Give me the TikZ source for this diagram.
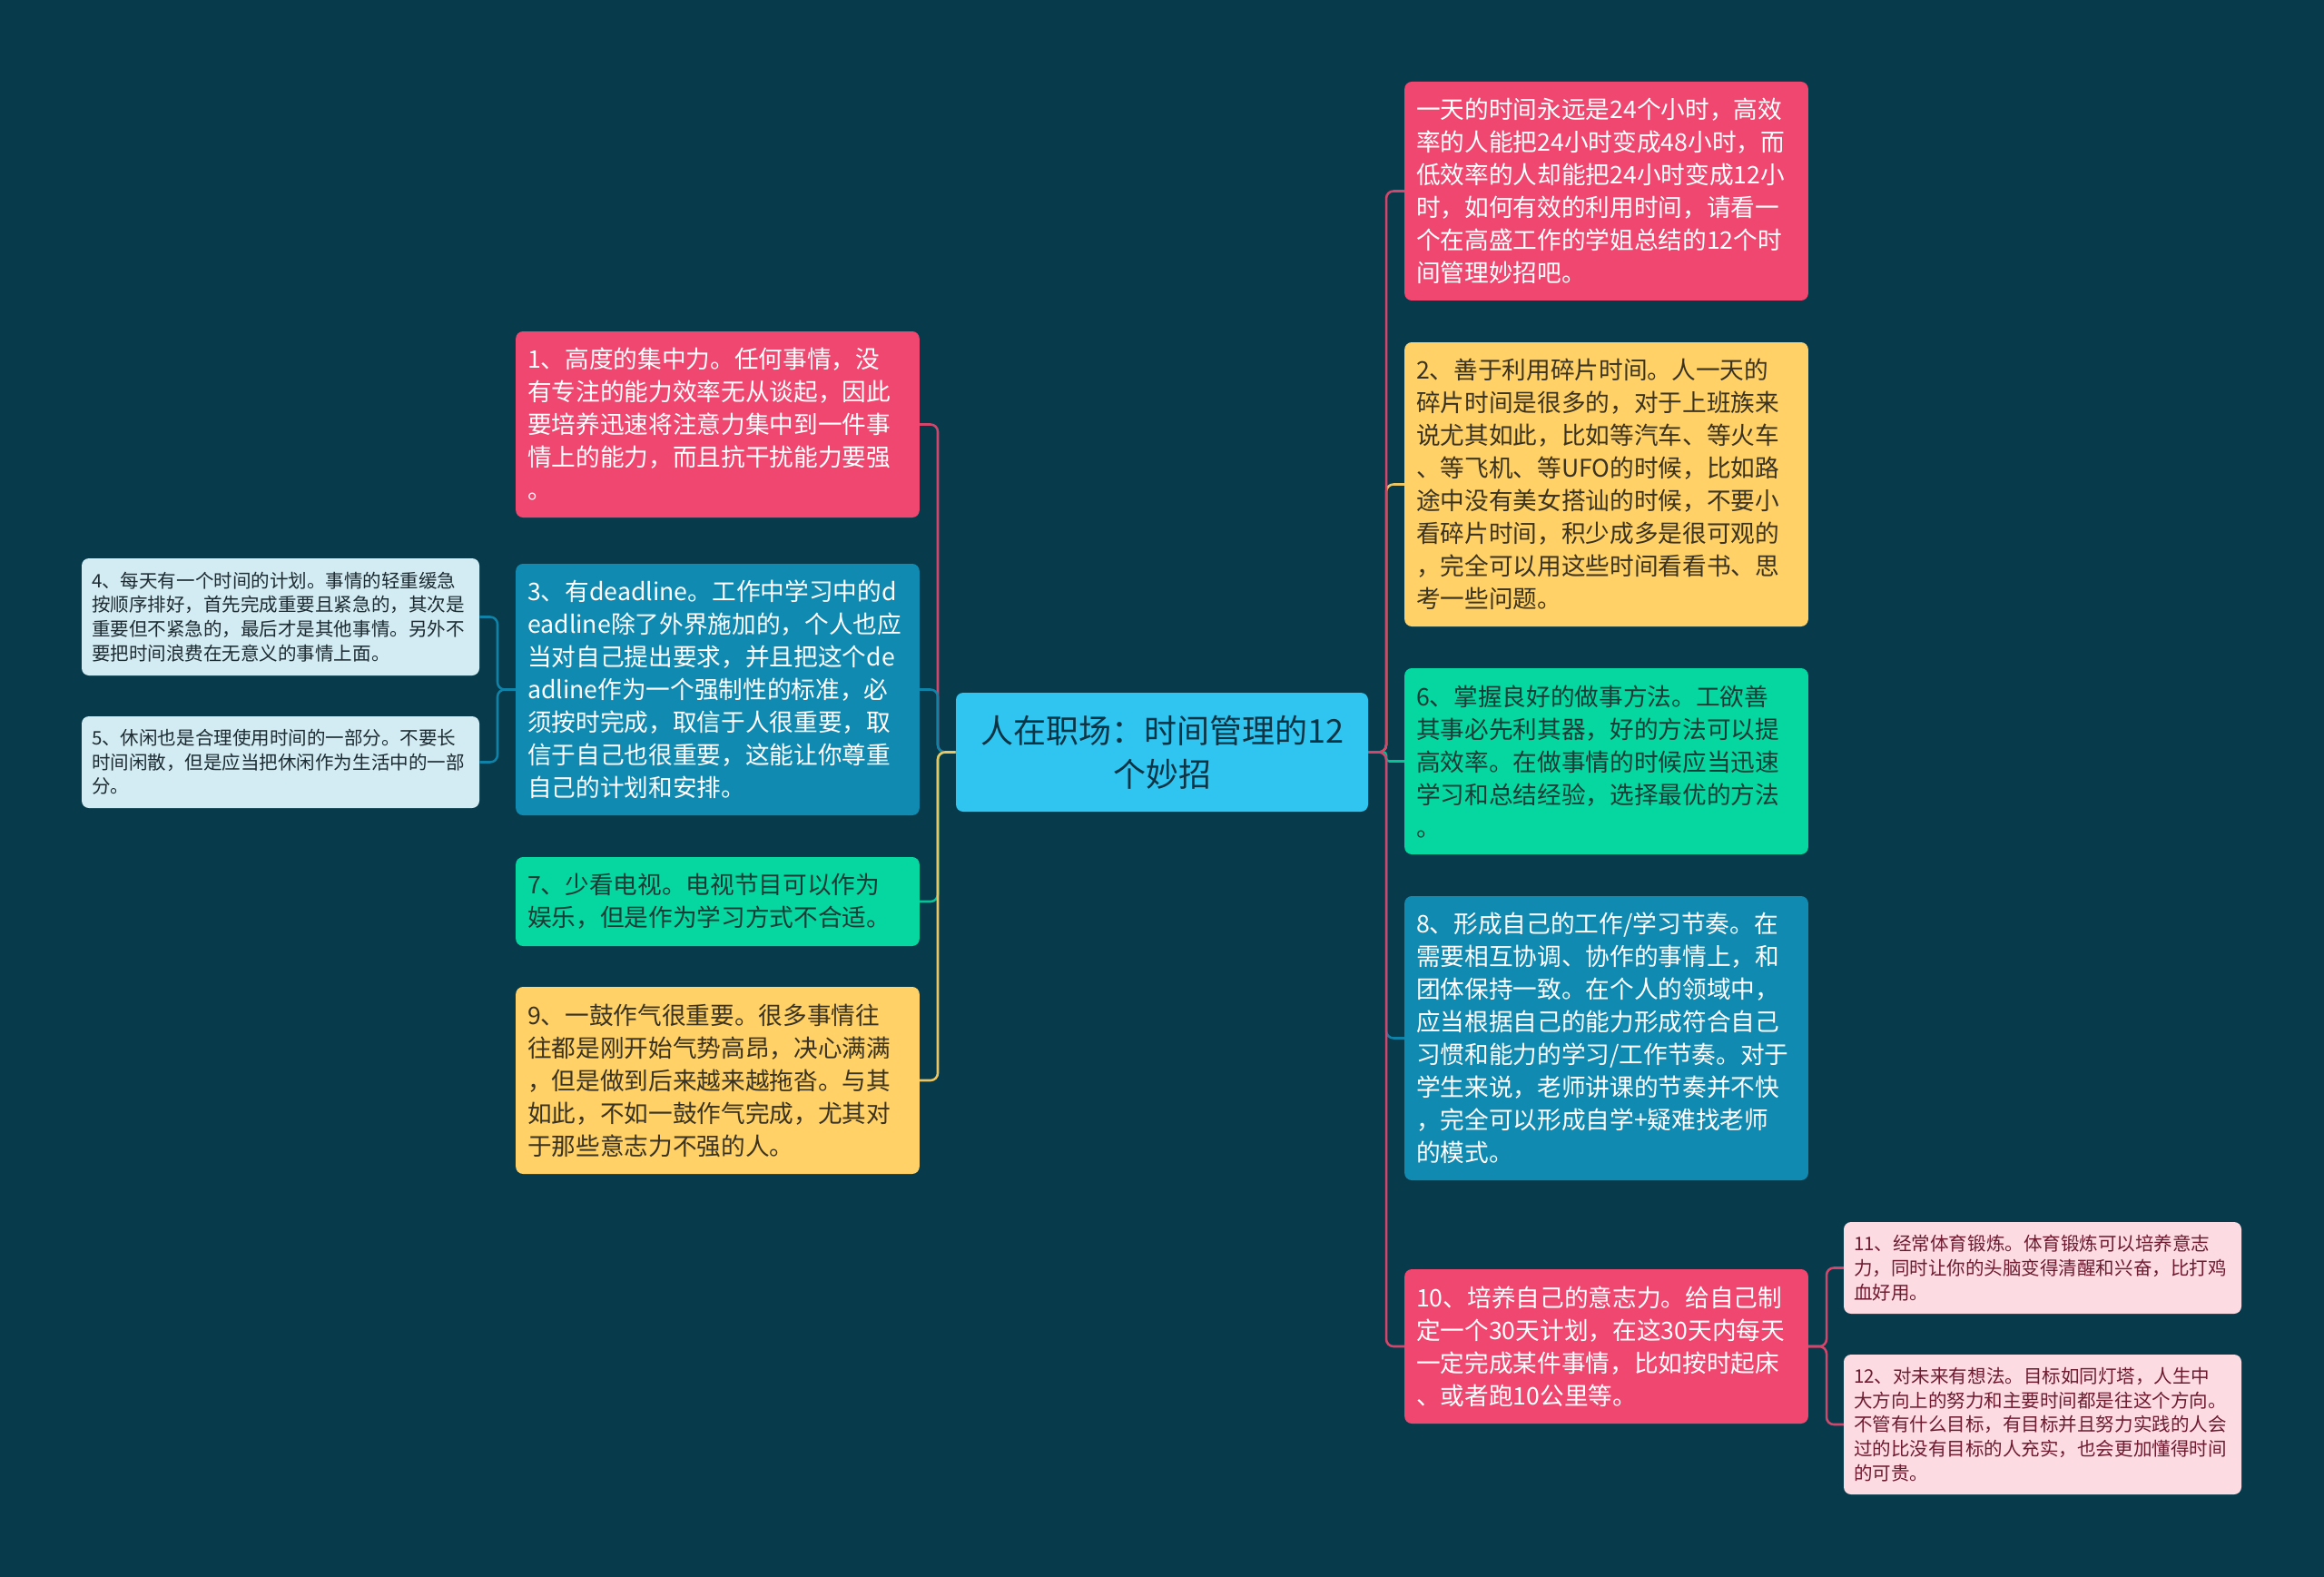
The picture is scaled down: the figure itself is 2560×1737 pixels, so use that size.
\documentclass[tikz,border=0pt]{standalone}
\usepackage{fontspec}
\setmainfont{Noto Sans CJK SC}
\definecolor{bg}{HTML}{073B4C}
\definecolor{cpink}{HTML}{EF476F}
\definecolor{cyellow}{HTML}{FFD166}
\definecolor{cgreen}{HTML}{06D6A0}
\definecolor{cblue}{HTML}{118AB2}
\definecolor{ccenter}{HTML}{30C4F0}
\definecolor{clblue}{HTML}{D3EBF2}
\definecolor{clpink}{HTML}{FDDBE3}
\definecolor{tdark}{HTML}{0C3444}
\definecolor{tyellow}{HTML}{3A3322}
\definecolor{tgreen}{HTML}{173D36}
\definecolor{tlblue}{HTML}{1D2C33}
\definecolor{tlpink}{HTML}{6E1B30}
\colorlet{lpink}{cpink!88!bg}
\colorlet{lyellow}{cyellow!92!bg}
\colorlet{lgreen}{cgreen!88!bg}
\colorlet{lblue}{cblue!90!bg}
\begin{document}
\begin{tikzpicture}[x=0.75pt,y=-0.75pt,
  bigbox/.style={rounded corners=6pt, inner xsep=9.75pt, inner ysep=0pt, text width=314pt, align=left, anchor=center, font=\fontsize{20pt}{27pt}\selectfont},
  smallbox/.style={rounded corners=6pt, inner xsep=8.25pt, inner ysep=0pt, text width=312pt, align=left, anchor=center, font=\fontsize{15.4pt}{20pt}\selectfont},
  pinkbox/.style={bigbox, fill=cpink, text=white},
  yellowbox/.style={bigbox, fill=cyellow, text=tyellow},
  greenbox/.style={bigbox, fill=cgreen, text=tgreen},
  bluebox/.style={bigbox, fill=cblue, text=white},
  lbluebox/.style={smallbox, fill=clblue, text=tlblue},
  lpinkbox/.style={smallbox, fill=clpink, text=tlpink},
  link/.style={line width=1.9pt, rounded corners=6pt}
]
\fill[bg] (0,0) rectangle (2560,1737);
\useasboundingbox (0,0) rectangle (2560,1737);

% center
\node[rounded corners=6pt, fill=ccenter, text=tdark, minimum width=340.5pt, minimum height=98.25pt, align=center, inner sep=0pt, font=\fontsize{27pt}{36pt}\selectfont] (C) at (1280,828.5) {人在职场：时间管理的12\\个妙招};

% right side
\node[pinkbox, minimum height=180.75pt] (R0) at (1769.5,210.5) {一天的时间永远是24个小时，高效\\率的人能把24小时变成48小时，而\\低效率的人却能把24小时变成12小\\时，如何有效的利用时间，请看一\\个在高盛工作的学姐总结的12个时\\间管理妙招吧。};
\node[yellowbox, minimum height=234.75pt] (N2) at (1769.5,533.5) {2、善于利用碎片时间。人一天的\\碎片时间是很多的，对于上班族来\\说尤其如此，比如等汽车、等火车\\、等飞机、等UFO的时候，比如路\\途中没有美女搭讪的时候，不要小\\看碎片时间，积少成多是很可观的\\，完全可以用这些时间看看书、思\\考一些问题。};
\node[greenbox, minimum height=153.75pt] (N6) at (1769.5,838.5) {6、掌握良好的做事方法。工欲善\\其事必先利其器，好的方法可以提\\高效率。在做事情的时候应当迅速\\学习和总结经验，选择最优的方法\\。};
\node[bluebox, minimum height=234.75pt] (N8) at (1769.5,1143.5) {8、形成自己的工作/学习节奏。在\\需要相互协调、协作的事情上，和\\团体保持一致。在个人的领域中，\\应当根据自己的能力形成符合自己\\习惯和能力的学习/工作节奏。对于\\学生来说，老师讲课的节奏并不快\\，完全可以形成自学+疑难找老师\\的模式。};
\node[pinkbox, minimum height=127.5pt] (N10) at (1769.5,1483) {10、培养自己的意志力。给自己制\\定一个30天计划，在这30天内每天\\一定完成某件事情，比如按时起床\\、或者跑10公里等。};
\node[lpinkbox, minimum height=75.75pt] (N11) at (2250,1396.5) {11、经常体育锻炼。体育锻炼可以培养意志\\力，同时让你的头脑变得清醒和兴奋，比打鸡\\血好用。};
\node[lpinkbox, minimum height=115.5pt] (N12) at (2250,1569) {12、对未来有想法。目标如同灯塔，人生中\\大方向上的努力和主要时间都是往这个方向。\\不管有什么目标，有目标并且努力实践的人会\\过的比没有目标的人充实，也会更加懂得时间\\的可贵。};

% left side
\node[pinkbox, minimum height=153.75pt] (N1) at (790.5,467.5) {1、高度的集中力。任何事情，没\\有专注的能力效率无从谈起，因此\\要培养迅速将注意力集中到一件事\\情上的能力，而且抗干扰能力要强\\。};
\node[bluebox, minimum height=207.75pt] (N3) at (790.5,759.5) {3、有deadline。工作中学习中的d\\eadline除了外界施加的，个人也应\\当对自己提出要求，并且把这个de\\adline作为一个强制性的标准，必\\须按时完成，取信于人很重要，取\\信于自己也很重要，这能让你尊重\\自己的计划和安排。};
\node[greenbox, minimum height=73.5pt] (N7) at (790.5,993) {7、少看电视。电视节目可以作为\\娱乐，但是作为学习方式不合适。};
\node[yellowbox, minimum height=154.5pt] (N9) at (790.5,1190) {9、一鼓作气很重要。很多事情往\\往都是刚开始气势高昂，决心满满\\，但是做到后来越来越拖沓。与其\\如此，不如一鼓作气完成，尤其对\\于那些意志力不强的人。};
\node[lbluebox, minimum height=96.75pt] (N4) at (309,679.5) {4、每天有一个时间的计划。事情的轻重缓急\\按顺序排好，首先完成重要且紧急的，其次是\\重要但不紧急的，最后才是其他事情。另外不\\要把时间浪费在无意义的事情上面。};
\node[lbluebox, minimum height=75.75pt] (N5) at (309,839.5) {5、休闲也是合理使用时间的一部分。不要长\\时间闲散，但是应当把休闲作为生活中的一部\\分。};

% trunk points
\coordinate (LT) at (1033,828.5);
\coordinate (RT) at (1527,828.5);
\coordinate (S10) at (2012,1483);
\coordinate (S3) at (548,759.5);

% connectors left
\draw[link, lpink] (C.west) -- (LT) |- (N1.east);
\draw[link, lblue] (C.west) -- (LT) |- (N3.east);
\draw[link, lgreen] (C.west) -- (LT) |- (N7.east);
\draw[link, lyellow] (C.west) -- (LT) |- (N9.east);
% connectors right
\draw[link, lgreen, rounded corners=2.5pt] (C.east) -- (RT) |- (N6.west);
\draw[link, lblue] (C.east) -- (RT) |- (N8.west);
\draw[link, lyellow] (C.east) -- (RT) |- (N2.west);
\draw[link, lpink] (C.east) -- (RT) |- (N10.west);
\draw[link, lpink] (C.east) -- (RT) |- (R0.west);
% sub connectors
\draw[link, lpink] (N10.east) -- (S10) |- (N11.west);
\draw[link, lpink] (N10.east) -- (S10) |- (N12.west);
\draw[link, lblue] (N3.west) -- (S3) |- (N4.east);
\draw[link, lblue] (N3.west) -- (S3) |- (N5.east);
\end{tikzpicture}
\end{document}
